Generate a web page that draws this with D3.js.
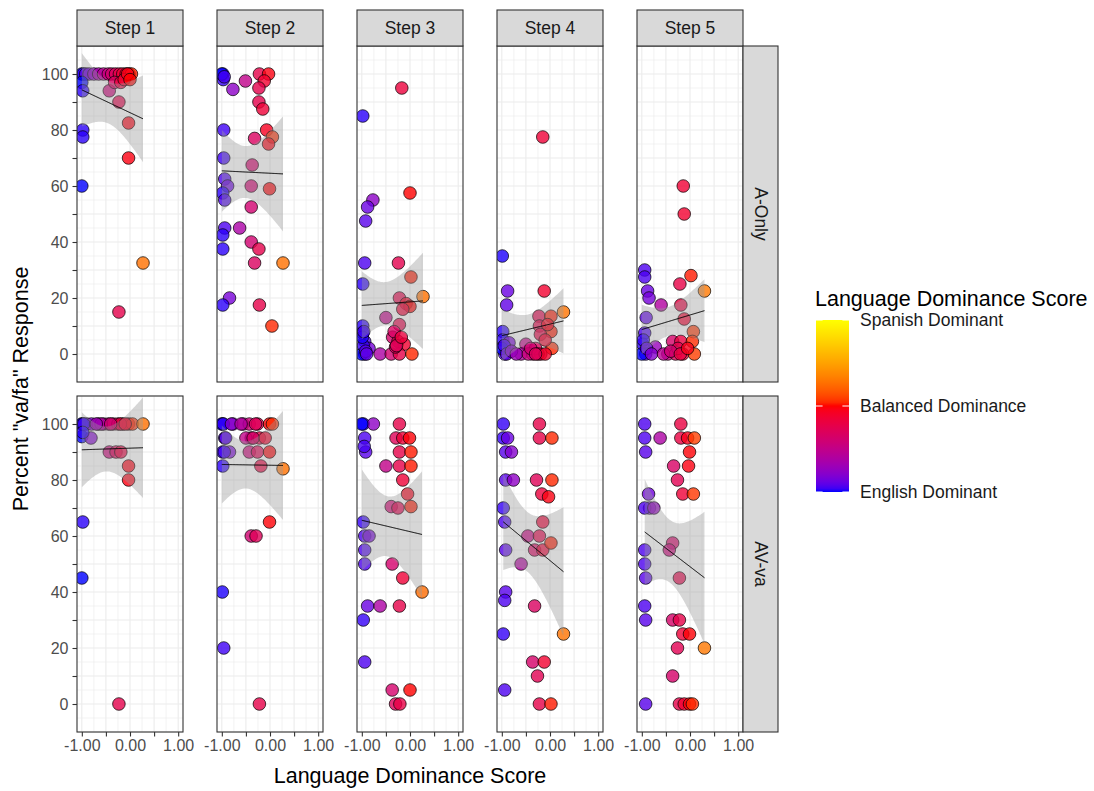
<!DOCTYPE html>
<html>
<head>
<meta charset="utf-8">
<script src="https://cdn.jsdelivr.net/npm/d3@7"></script>
<style>
  body { margin: 0; background: #fff; }
  text { font-family: "Liberation Sans", Arial, sans-serif; }
</style>
</head>
<body>
<svg id="chart" width="1094" height="791"></svg>
<script>
// Facet labels
const steps = ["Step 1", "Step 2", "Step 3", "Step 4", "Step 5"];
const conditions = ["A-Only", "AV-va"];

// Axis ticks
const xTicks = [-1, -0.5, 0, 0.5, 1];
const xTickLabels = ["-1.00", "", "0.00", "", "1.00"];
const yTicks = [0, 10, 20, 30, 40, 50, 60, 70, 80, 90, 100];
const yTickLabels = ["0", "", "20", "", "40", "", "60", "", "80", "", "100"];

// Colour legend
const legendBreaks = [-1, 0, 1];
const legendLabels = ["English Dominant", "Balanced Dominance", "Spanish Dominant"];

// [dominance score, percent "va/fa"] per participant, by step and condition
const s1AOnly = [[-1.00,100],[-0.97,100],[-0.92,100],[-0.85,100],[-0.75,100],[-0.65,100],[-0.55,100],[-0.45,100],[-0.38,100],[-0.30,100],[-0.22,100],[-0.15,100],[-0.08,100],[-0.02,100],[0.03,100],
  [-1.00,97],[-0.98,94],[-0.43,94],[-0.32,97],[-0.19,97],[-0.12,98],[-0.23,90],[-0.03,82.5],[-0.98,80],[-0.98,77.5],[-0.03,70],[-1.00,60],[0.27,32.5],[-0.23,15],
  [-0.05,100],[0.00,98]];
const s2AOnly = [[-0.98,100],[-0.97,98],[-1.00,100],[-0.95,99],[-0.77,94.5],[-0.51,97.5],[-0.22,100],[-0.03,100],[-0.12,97.5],[-0.23,95],[-0.23,90],[-0.15,87.5],[-0.96,80],[-0.07,80],[0.05,77.5],[-0.03,75],[-0.32,77],[-0.96,70],[-0.37,67.5],[-0.94,62.5],[-0.88,60],[-0.39,60],[-0.01,59],[-0.98,57.5],[-0.94,55],[-0.39,52.5],[-0.94,45],[-0.63,45],[-0.98,42.5],[-0.98,37.5],[-0.39,40],[-0.23,37.5],[-0.32,32.5],[0.27,32.5],[-0.84,20],[-0.98,17.5],[-0.22,17.5],[0.04,10]];
const s3AOnly = [[-0.17,95],[-0.98,85],[0.00,57.5],[-0.77,55],[-0.88,52.5],[-0.92,47.5],[-0.94,32.5],[-0.24,32.5],[-0.98,25],[0.02,27.5],[0.27,20.5],[-0.22,20],[-0.08,18],[0.00,17],[-0.15,16],[-0.50,13],[-0.22,10.5],[-0.98,10],[-0.98,7.5],[-0.94,4.5],[-0.36,6],[-0.25,4.5],[-0.12,3.5],[-0.94,0],[-0.85,2],[-0.62,0],[-0.39,0],[-0.22,0],[0.04,0],[-0.30,2.5],
  [-1.00,0],[-0.97,3],[-0.99,6],[-0.92,1],[-0.96,8],[-0.90,0],[-0.33,8],[-0.28,3],[-0.18,6]];
const s4AOnly = [[-0.15,77.5],[-0.99,35],[-0.88,22.5],[-0.12,22.5],[-0.90,17.5],[0.28,15],[-0.23,13.5],[0.02,13.5],[-0.22,10],[0.02,8],[-0.20,7],[-0.05,10.5],[-0.98,8],[-0.98,5],[-0.85,4],[-0.50,3.5],[-0.60,0],[-0.94,0],[-0.36,0],[-0.19,0],[0.04,2],[-0.30,2],[-0.10,5],
  [-1.00,2],[-0.95,3],[-0.90,0],[-0.80,1],[-0.70,0],[-0.45,0],[-0.40,2],[-0.25,0],[-0.10,0],[-0.30,0]];
const s5AOnly = [[-0.14,60],[-0.12,50],[-0.94,30],[-0.94,27.5],[0.02,28],[-0.21,25],[0.30,22.5],[-0.88,22.5],[-0.85,20],[-0.60,17.5],[-0.19,17.5],[-0.91,13],[-0.12,12.5],[0.07,8],[-0.94,7.5],[-0.98,3.5],[-0.72,2.5],[-0.92,0],[-0.46,0],[-0.30,0],[-0.15,0],[0.09,0],[-0.36,4.5],[-0.19,4.5],[0.05,4.5],[-0.25,2],
  [-1.00,0],[-0.97,5],[-0.90,2],[-0.80,0],[-0.55,0],[-0.40,1],[-0.20,0],[-0.05,2]];
const s1AVva = [[-1.00,100],[-0.90,100],[-0.80,100],[-0.66,100],[-0.55,100],[-0.45,100],[-0.35,100],[-0.25,100],[-0.15,100],[-0.03,100],[0.05,100],[0.27,100],
  [-1.00,95.5],[-0.81,95],[-0.43,90],[-0.29,90],[-0.19,90],[-0.03,85],[-0.03,80],[-0.98,65],[-1.00,45],[-0.23,0],
  [-0.99,100],[-0.96,100],[-0.98,97],[-0.60,100],[-0.20,100],[-0.10,100],[-0.70,100],[-0.40,100]];
const s2AVva = [[-0.98,100],[-0.77,100],[-0.56,100],[-0.43,100],[-0.26,100],[-0.01,100],[0.05,100],
  [-0.94,95],[-0.39,95],[-0.22,95],[-0.98,90],[-0.84,90],[-0.43,90],[-0.26,90],[-0.01,90],[-0.98,85],[-0.19,85],[0.27,84],[-0.01,65],[-0.39,60],[-0.29,60],[-0.99,40],[-0.96,20],[-0.22,0],
  [-1.00,100],[-0.97,100],[-0.92,95],[-0.95,90],[-0.80,100],[-0.60,100],[-0.50,95],[-0.35,95],[-0.30,100],[-0.10,95]];
const s3AVva = [[-0.97,100],[-0.76,100],[-0.22,100],[-0.94,95],[-0.29,95],[-0.15,95],[-0.01,95],[-0.92,90],[-0.22,90],[0.02,90],[-0.50,85],[-0.22,85],[0.02,85],[-0.15,80],[-0.05,75],[-0.39,70.5],[-0.25,70],[0.02,70.5],[-0.97,65],[-0.94,60],[-0.85,60],[-0.94,55],[-0.94,50],[-0.37,50],[-0.15,45],[0.25,40],[-0.88,35],[-0.62,35],[-0.22,35],[-0.97,30],[-0.94,15],[-0.37,5],[0.00,5],[-0.30,0],[-0.21,0],
  [-1.00,100],[-0.95,92]];
const s4AVva = [[-0.97,100],[-0.22,100],[-0.97,95],[-0.88,95],[-0.22,95],[0.04,95],[-0.92,90],[-0.80,90],[-0.92,80],[-0.76,80],[-0.28,80],[0.04,80],[-0.17,75],[-0.03,74],[-0.97,70],[-0.94,65],[-0.15,65],[-0.46,60],[-0.22,60],[-0.32,55],[-0.15,55],[0.02,57.5],[-0.92,55],[-0.60,50],[-0.92,40],[-0.94,37],[-0.32,35],[-0.97,25],[0.28,25],[-0.36,15],[-0.12,15],[-0.26,10],[-0.94,5],[-0.22,0],[0.02,0]];
const s5AVva = [[-0.94,100],[-0.19,100],[-0.94,95],[-0.62,95],[-0.19,95],[-0.05,95],[0.09,95],[-0.92,90],[-0.01,90],[-0.34,85],[-0.03,85],[-0.26,80],[-0.15,75],[0.07,75],[-0.86,75],[-0.84,70],[-0.94,70],[-0.75,70],[-0.94,55],[-0.94,50],[-0.92,45],[-0.36,57.5],[-0.43,55],[-0.22,45],[-0.94,35],[-0.92,30],[-0.36,30],[-0.22,30],[-0.15,25],[-0.01,25],[-0.26,20],[0.30,20],[-0.36,10],[-0.92,0],[-0.22,0],[-0.12,0],[-0.01,0],[0.05,0]];

const panelData = [
  [s1AOnly, s2AOnly, s3AOnly, s4AOnly, s5AOnly],
  [s1AVva, s2AVva, s3AVva, s4AVva, s5AVva]
];

// ---- layout ----
const svg = d3.select("#chart");
const panelW = 106, panelH = 336, colStep = 140;
const left0 = 77;
const rowTops = [46, 396];
const stripTop = 10, stripRightW = 35;
const tickFont = "16px";

const x = d3.scaleLinear().domain([-1.1, 1.1]).range([0, panelW]);
const y = d3.scaleLinear().domain([-10, 110]).range([panelH, 0]);
const color = d3.scaleLinear().domain([-1, 0, 1])
  .range(["blue", "red", "yellow"]).interpolate(d3.interpolateLab);

// Student t 97.5% quantile (Cornish-Fisher expansion)
function tQuantile975(df) {
  const z = 1.959964;
  const z3 = z*z*z, z5 = z3*z*z, z7 = z5*z*z;
  return z + (z3 + z)/(4*df) + (5*z5 + 16*z3 + 3*z)/(96*df*df)
    + (3*z7 + 19*z5 + 17*z3 - 15*z)/(384*df*df*df);
}

// Linear fit with 95% confidence band
function lmFit(pts) {
  const n = pts.length;
  const mx = d3.mean(pts, d => d[0]), my = d3.mean(pts, d => d[1]);
  let sxx = 0, sxy = 0;
  pts.forEach(d => { sxx += (d[0]-mx)**2; sxy += (d[0]-mx)*(d[1]-my); });
  const b = sxy / sxx, a = my - b*mx;
  let sse = 0;
  pts.forEach(d => { sse += (d[1] - (a + b*d[0]))**2; });
  const s = Math.sqrt(sse / (n - 2));
  const t = tQuantile975(n - 2);
  const [x0, x1] = d3.extent(pts, d => d[0]);
  const out = [];
  const N = 80;
  for (let i = 0; i <= N; i++) {
    const xv = x0 + (x1 - x0) * i / N;
    const fit = a + b*xv;
    const se = s * Math.sqrt(1/n + (xv-mx)**2 / sxx);
    out.push({x: xv, y: fit, lo: fit - t*se, hi: fit + t*se});
  }
  return out;
}

const defs = svg.append("defs");
defs.append("clipPath").attr("id", "panelClip")
  .append("rect").attr("width", panelW).attr("height", panelH);

const gridMajorX = [-1, -0.5, 0, 0.5, 1];
const gridMinorX = [-0.75, -0.25, 0.25, 0.75];
const gridMajorY = d3.range(-10, 111, 10);
const gridMinorY = d3.range(-5, 110, 10);

panelData.forEach((row, ri) => {
  row.forEach((pts, ci) => {
    const g = svg.append("g")
      .attr("transform", `translate(${left0 + ci*colStep},${rowTops[ri]})`);
    // grid
    g.selectAll(".gmx").data(gridMinorX).join("line")
      .attr("x1", d => x(d)).attr("x2", d => x(d)).attr("y1", 0).attr("y2", panelH)
      .attr("stroke", "#EBEBEB").attr("stroke-width", 0.6);
    g.selectAll(".gmy").data(gridMinorY).join("line")
      .attr("y1", d => y(d)).attr("y2", d => y(d)).attr("x1", 0).attr("x2", panelW)
      .attr("stroke", "#EBEBEB").attr("stroke-width", 0.6);
    g.selectAll(".gMx").data(gridMajorX).join("line")
      .attr("x1", d => x(d)).attr("x2", d => x(d)).attr("y1", 0).attr("y2", panelH)
      .attr("stroke", "#EBEBEB").attr("stroke-width", 1.1);
    g.selectAll(".gMy").data(gridMajorY).join("line")
      .attr("y1", d => y(d)).attr("y2", d => y(d)).attr("x1", 0).attr("x2", panelW)
      .attr("stroke", "#EBEBEB").attr("stroke-width", 1.1);

    const inner = g.append("g").attr("clip-path", "url(#panelClip)");
    // points
    inner.selectAll("circle").data(pts).join("circle")
      .attr("cx", d => x(d[0])).attr("cy", d => y(d[1])).attr("r", 6.3)
      .attr("fill", d => color(d[0])).attr("fill-opacity", 0.8)
      .attr("stroke", "#000").attr("stroke-width", 0.7);
    // smooth
    const fit = lmFit(pts);
    inner.append("path").datum(fit)
      .attr("d", d3.area().x(d => x(d.x)).y0(d => y(d.lo)).y1(d => y(d.hi)))
      .attr("fill", "#999999").attr("fill-opacity", 0.4);
    inner.append("path").datum(fit)
      .attr("d", d3.line().x(d => x(d.x)).y(d => y(d.y)))
      .attr("fill", "none").attr("stroke", "#000").attr("stroke-width", 1);

    // border
    g.append("rect").attr("width", panelW).attr("height", panelH)
      .attr("fill", "none").attr("stroke", "#333333").attr("stroke-width", 1.1);

    // y axis on first column
    if (ci === 0) {
      const ya = g.append("g").call(d3.axisLeft(y).tickValues(yTicks)
        .tickFormat((d, i) => yTickLabels[i]).tickSize(4.5).tickPadding(4));
      ya.select(".domain").remove();
      ya.selectAll("line").attr("stroke", "#333333").attr("stroke-width", 1.1);
      ya.selectAll("text").attr("fill", "#4D4D4D").style("font-size", tickFont)
        .style("font-family", "Liberation Sans, Arial, sans-serif");
    }
    // x axis on bottom row
    if (ri === 1) {
      const xa = g.append("g").attr("transform", `translate(0,${panelH})`)
        .call(d3.axisBottom(x).tickValues(xTicks)
          .tickFormat((d, i) => xTickLabels[i]).tickSize(4.5).tickPadding(3));
      xa.select(".domain").remove();
      xa.selectAll("line").attr("stroke", "#333333").attr("stroke-width", 1.1);
      xa.selectAll("text").attr("fill", "#4D4D4D").style("font-size", tickFont)
        .style("font-family", "Liberation Sans, Arial, sans-serif");
    }
  });
});

// top strips
steps.forEach((s, ci) => {
  const g = svg.append("g").attr("transform", `translate(${left0 + ci*colStep},${stripTop})`);
  g.append("rect").attr("width", panelW).attr("height", rowTops[0] - stripTop)
    .attr("fill", "#D9D9D9").attr("stroke", "#333333").attr("stroke-width", 1.1);
  g.append("text").attr("x", panelW/2).attr("y", (rowTops[0] - stripTop)/2 + 6)
    .attr("text-anchor", "middle").attr("fill", "#1A1A1A").style("font-size", "17.5px").text(s);
});

// right strips
const rightX = left0 + 4*colStep + panelW;
conditions.forEach((c, ri) => {
  const g = svg.append("g").attr("transform", `translate(${rightX},${rowTops[ri]})`);
  g.append("rect").attr("width", stripRightW).attr("height", panelH)
    .attr("fill", "#D9D9D9").attr("stroke", "#333333").attr("stroke-width", 1.1);
  g.append("text")
    .attr("transform", `translate(${stripRightW/2 - 6},${panelH/2}) rotate(90)`)
    .attr("text-anchor", "middle").attr("fill", "#1A1A1A").style("font-size", "17.5px").text(c);
});

// axis titles
const plotMidX = (left0 + left0 + 4*colStep + panelW) / 2;
svg.append("text").attr("x", plotMidX).attr("y", 783)
  .attr("text-anchor", "middle").attr("fill", "#000").style("font-size", "21.5px")
  .text("Language Dominance Score");
svg.append("text")
  .attr("transform", `translate(28,${(rowTops[0] + rowTops[1] + panelH)/2}) rotate(-90)`)
  .attr("text-anchor", "middle").attr("fill", "#000").style("font-size", "21.5px")
  .text('Percent "va/fa" Response');

// colour legend
const barX = 816, barW = 33, barTop = 320, barH = 172;
const barY = d3.scaleLinear().domain([-1, 1]).range([barTop + barH, barTop]);
const grad = defs.append("linearGradient").attr("id", "domGrad")
  .attr("x1", 0).attr("y1", 1).attr("x2", 0).attr("y2", 0);
d3.range(0, 1.0001, 0.02).forEach(t => {
  grad.append("stop").attr("offset", t).attr("stop-color", color(-1 + 2*t));
});
svg.append("text").attr("x", 815).attr("y", 306).attr("fill", "#000")
  .style("font-size", "21.5px").text("Language Dominance Score");
svg.append("rect").attr("x", barX).attr("y", barTop).attr("width", barW).attr("height", barH)
  .attr("fill", "url(#domGrad)");
legendBreaks.forEach((b, i) => {
  const yy = barY(b);
  svg.append("line").attr("x1", barX).attr("x2", barX + 6.6).attr("y1", yy).attr("y2", yy)
    .attr("stroke", "#fff").attr("stroke-width", 1);
  svg.append("line").attr("x1", barX + barW - 6.6).attr("x2", barX + barW).attr("y1", yy).attr("y2", yy)
    .attr("stroke", "#fff").attr("stroke-width", 1);
  svg.append("text").attr("x", 860).attr("y", yy + 6).attr("fill", "#1A1A1A")
    .style("font-size", "17.5px").text(legendLabels[i]);
});
</script>
</body>
</html>
